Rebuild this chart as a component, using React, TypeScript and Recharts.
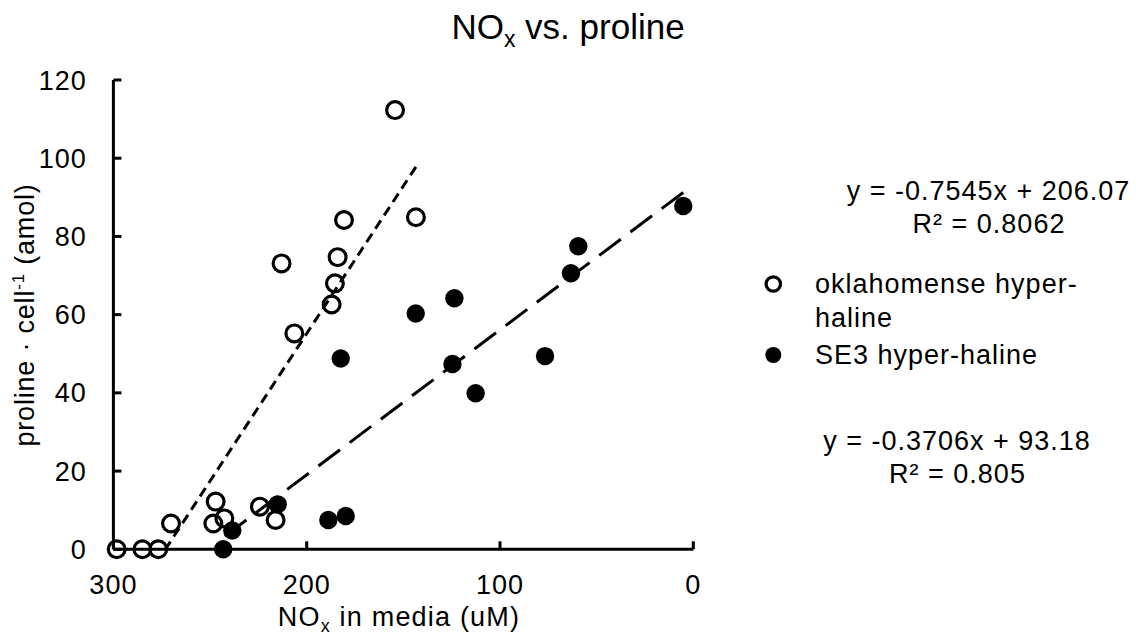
import { ScatterChart, Scatter, XAxis, YAxis, ReferenceLine } from 'recharts';

// NOx in media (uM) vs. proline per cell (amol)
const okNOx = [298.3, 285, 276.8, 270.2, 247.1, 248.3, 242.6, 224.2, 216.1, 213, 206.4, 187.1, 185.4, 184, 180.7, 154.3, 143.5];
const okProline = [0, 0, 0, 6.6, 12.2, 6.6, 7.9, 10.9, 7.5, 73.1, 55.2, 62.6, 68, 74.7, 84.2, 112.3, 84.9];

const se3NOx = [243.2, 238.5, 215, 188.8, 179.8, 182.4, 143.6, 123.6, 124.6, 112.6, 76.7, 63.3, 59.5, 5.2];
const se3Proline = [0, 4.8, 11.5, 7.5, 8.5, 48.8, 60.3, 64.2, 47.4, 39.9, 49.4, 70.6, 77.5, 87.8];

// linear trendlines as printed on the chart, and the x span they are drawn over
const okFit = { slope: -0.7545, intercept: 206.07, from: 143.5, to: 273.1 };
const se3Fit = { slope: -0.3706, intercept: 93.18, from: 5.2, to: 243.2 };

const xTicks = [0, 100, 200, 300];
const yTicks = [0, 20, 40, 60, 80, 100, 120];

const FONT = '"Liberation Sans", Arial, sans-serif';

const okData = okNOx.map((x, i) => ({ x, y: okProline[i] }));
const se3Data = se3NOx.map((x, i) => ({ x, y: se3Proline[i] }));

const segment = (f: typeof okFit) => [
  { x: f.from, y: f.slope * f.from + f.intercept },
  { x: f.to, y: f.slope * f.to + f.intercept },
];

const OpenDot = (p: any) => <circle cx={p.cx} cy={p.cy} r={8.4} fill="none" stroke="#000" strokeWidth={3.2} />;
const FilledDot = (p: any) => <circle cx={p.cx} cy={p.cy} r={9.2} fill="#000" />;

const tickStyle = { fill: '#000', fontSize: 27, fontFamily: FONT, letterSpacing: 1 };

export default function App() {
  return (
    <div style={{ position: 'absolute', left: 0, top: 0, width: 1136, height: 643, background: '#fff', fontFamily: FONT }}>
      <ScatterChart width={1136} height={643} margin={{ top: 80, right: 442.7, bottom: 63.7, left: 53.4 }}>
        <XAxis
          type="number"
          dataKey="x"
          domain={[0, 300]}
          ticks={xTicks}
          reversed
          height={30}
          axisLine={{ stroke: '#000', strokeWidth: 3 }}
          tickLine={{ stroke: '#000', strokeWidth: 3 }}
          tickSize={-8}
          tickMargin={33.7}
          tick={tickStyle}
        />
        <YAxis
          type="number"
          dataKey="y"
          domain={[0, 120]}
          ticks={yTicks}
          width={60}
          axisLine={{ stroke: '#000', strokeWidth: 3 }}
          tickLine={{ stroke: '#000', strokeWidth: 3 }}
          tickSize={-8}
          tickMargin={34.7}
          tick={tickStyle}
        />
        <Scatter data={okData} shape={OpenDot} isAnimationActive={false} />
        <Scatter data={se3Data} shape={FilledDot} isAnimationActive={false} />
        <ReferenceLine segment={segment(okFit)} stroke="#000" strokeWidth={3} strokeDasharray="10 6" />
        <ReferenceLine segment={segment(se3Fit)} stroke="#000" strokeWidth={3} strokeDasharray="27 12" />
      </ScatterChart>

      <svg width={1136} height={643} style={{ position: 'absolute', left: 0, top: 0, pointerEvents: 'none' }} fontFamily={FONT} fill="#000">
        <text x={568} y={39.3} textAnchor="middle" fontSize={35}>
          NO<tspan fontSize={23} dy={7.4}>x</tspan>
          <tspan dy={-7.4}>{' vs. proline'}</tspan>
        </text>

        <text x={399} y={626} textAnchor="middle" fontSize={27} letterSpacing={1.2}>
          NO<tspan fontSize={18} dy={6}>x</tspan>
          <tspan dy={-6}>{' in media (uM)'}</tspan>
        </text>

        <text transform="rotate(-90)" x={-315} y={33.5} textAnchor="middle" fontSize={27} letterSpacing={0.8}>
          {'proline · cell'}
          <tspan fontSize={17} dy={-10}>-1</tspan>
          <tspan dy={10}>{' (amol)'}</tspan>
        </text>

        <g fontSize={27} letterSpacing={1}>
          <text x={988.5} y={200} textAnchor="middle">y = -0.7545x + 206.07</text>
          <text x={989} y={233} textAnchor="middle">R² = 0.8062</text>

          <circle cx={773.3} cy={284} r={7.2} fill="none" stroke="#000" strokeWidth={3.2} />
          <text x={815} y={293}>oklahomense hyper-</text>
          <text x={815} y={327}>haline</text>
          <circle cx={773.3} cy={355} r={8} fill="#000" />
          <text x={815} y={364}>SE3 hyper-haline</text>

          <text x={957} y={450} textAnchor="middle">y = -0.3706x + 93.18</text>
          <text x={957.5} y={483} textAnchor="middle">R² = 0.805</text>
        </g>
      </svg>
    </div>
  );
}
